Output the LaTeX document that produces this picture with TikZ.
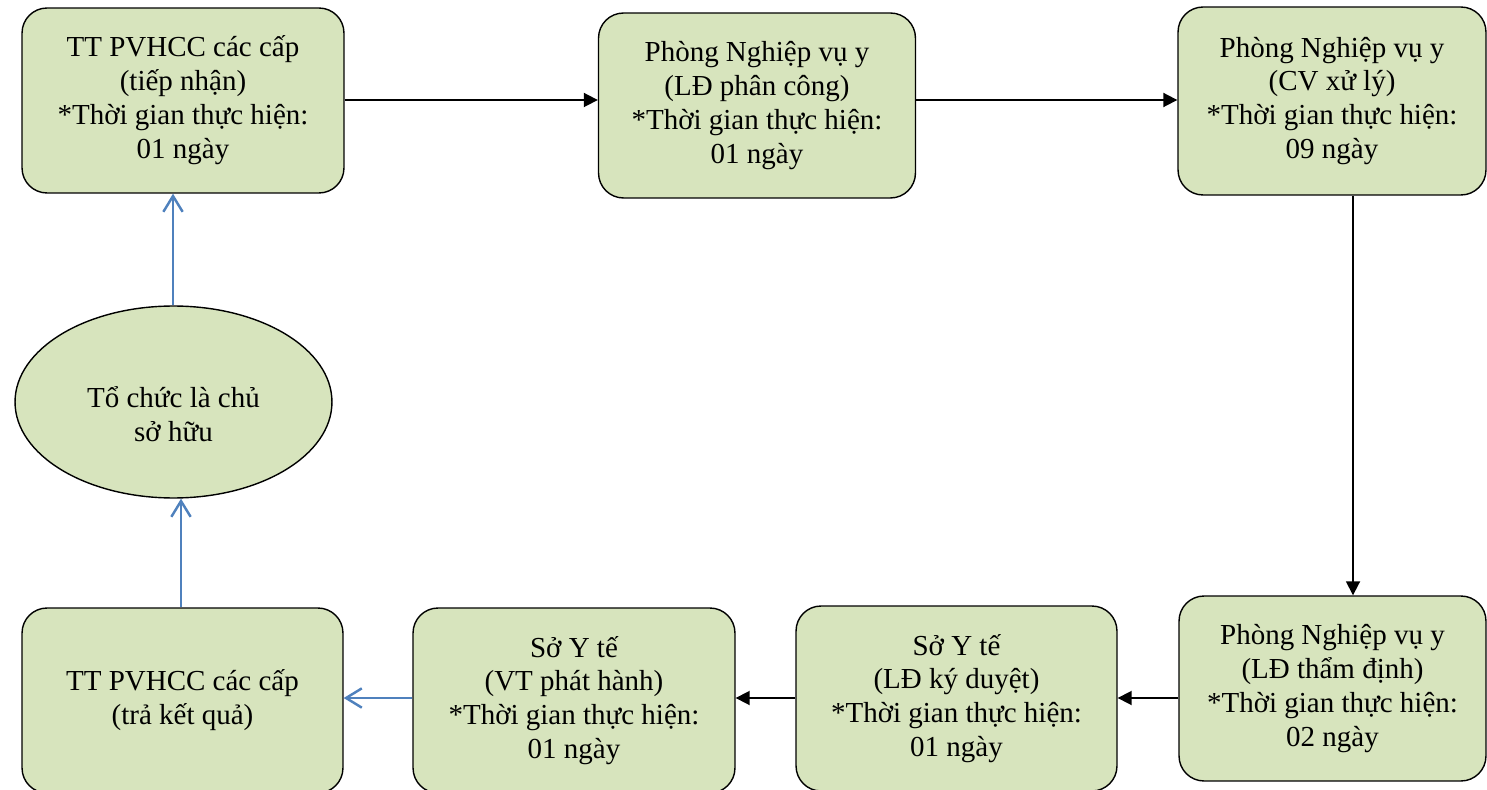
\documentclass[tikz,border=0pt]{standalone}
\usepackage{fontspec}
\setmainfont{Liberation Serif}
\usepackage{tikz}
\usetikzlibrary{shapes.geometric, arrows.meta, positioning}
\definecolor{StepGreen}{HTML}{D7E4BD}
\definecolor{ReturnBlue}{HTML}{4F81BD}

\tikzset{
    stepbox/.style={rectangle, rounded corners=0.5cm, draw=black, line width=0.8pt,
          fill=StepGreen, align=center, minimum width=6.4cm, minimum height=3.7cm,
          inner sep=2pt, font=\fontsize{16.5}{19.3}\selectfont},
    ownernode/.style={ellipse, draw=black, line width=0.8pt, fill=StepGreen,
          minimum width=6.34cm, minimum height=3.84cm, inner sep=0pt},
    ownertext/.style={align=center, inner sep=0pt, font=\fontsize{16.5}{19.3}\selectfont},
    flow/.style={draw=black, line width=1pt, -{Triangle[length=8pt, width=8pt]}},
    back/.style={draw=ReturnBlue, line width=1.4pt, -{Straight Barb[length=9pt, width=11pt]}}
}

\begin{document}
\begin{tikzpicture}[x=0.02cm, y=-0.02cm]
    \useasboundingbox (0,0) rectangle (1487,790);

    % upper row
    \node[stepbox, minimum width=6.44cm] (tiepnhan) at (183,100.5) {
        TT PVHCC các cấp\\ (tiếp nhận)\\ *Thời gian thực hiện:\\ 01 ngày};
    \node[stepbox, minimum width=6.34cm] (phancong) at (757,105.5) {
        Phòng Nghiệp vụ y\\ (LĐ phân công)\\ *Thời gian thực hiện:\\ 01 ngày};
    \node[stepbox, minimum width=6.16cm, minimum height=3.76cm] (xuly) at (1332,101) {
        Phòng Nghiệp vụ y\\ (CV xử lý)\\ *Thời gian thực hiện:\\ 09 ngày};

    % lower row
    \node[stepbox, minimum width=6.14cm] (thamdinh) at (1332.5,688.5) {
        Phòng Nghiệp vụ y\\ (LĐ thẩm định)\\ *Thời gian thực hiện:\\ 02 ngày};
    \node[stepbox, minimum width=6.42cm] (kyduyet) at (956.5,698.5) {
        Sở Y tế\\ (LĐ ký duyệt)\\ *Thời gian thực hiện:\\ 01 ngày};
    \node[stepbox, minimum width=6.44cm] (phathanh) at (574,700.5) {
        Sở Y tế\\ (VT phát hành)\\ *Thời gian thực hiện:\\ 01 ngày};
    \node[stepbox, minimum width=6.42cm] (trakq) at (182.5,700.5) {
        TT PVHCC các cấp\\ (trả kết quả)};

    % owner
    \node[ownernode, label={[ownertext, yshift=-0.25cm]center:{Tổ chức là chủ\\ sở hữu}}]
        (chusohuu) at (173.5,402) {};

    % connectors
    \draw[flow] (tiepnhan.east |- 0,100) -- (phancong.west |- 0,100);
    \draw[flow] (phancong.east |- 0,100) -- (xuly.west |- 0,100);
    \draw[flow] (xuly.south -| 1353,0) -- (thamdinh.north -| 1353,0);
    \draw[flow] (thamdinh.west |- 0,698) -- (kyduyet.east |- 0,698);
    \draw[flow] (kyduyet.west |- 0,698) -- (phathanh.east |- 0,698);
    \draw[back] (phathanh.west |- 0,698) -- (trakq.east |- 0,698);
    \draw[back] (trakq.north -| 181,0) -- (chusohuu.south -| 181,0);
    \draw[back] (chusohuu.north -| 173,0) -- (tiepnhan.south -| 173,0);
\end{tikzpicture}
\end{document}
